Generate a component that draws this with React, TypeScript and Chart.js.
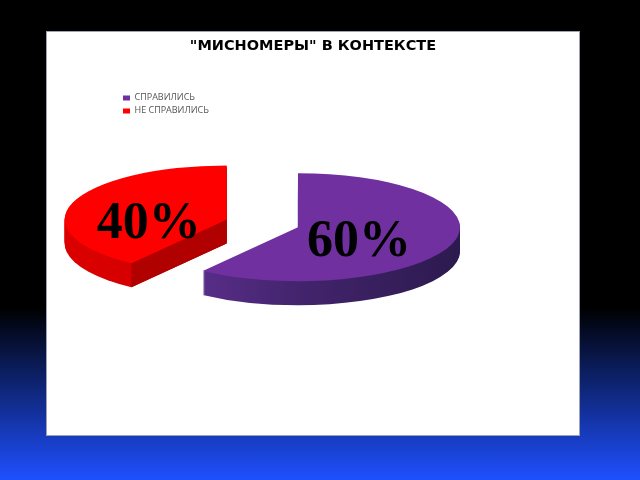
import React, { useEffect, useRef } from "react";
import { Chart, registerables } from "chart.js";

Chart.register(...registerables);

const titleText = '"МИСНОМЕРЫ" В КОНТЕКСТЕ';
const categories = ["СПРАВИЛИСЬ", "НЕ СПРАВИЛИСЬ"];
const shares = [60, 40];
const topColors = ["#7030A0", "#FF0000"];
const wallStops = [
  ["#65349A", "#43246D", "#2C1A4E"],
  ["#DC0000", "#CC0000", "#C00000"],
];
const cutColors = ["#3A1F60", "#B00000"];
const explode = [0, 75];
const labelShift = [
  [-16, 7],
  [-1, 13],
];

const SQUASH = 1 / 3;
const DEPTH = 24;

const centerY = (chart: any) => (chart.chartArea.top + chart.chartArea.bottom) / 2;

const pie3d = {
  id: "pie3d",
  afterLayout(chart: any) {
    if (chart.titleBlock) {
      chart.titleBlock.left = 0;
      chart.titleBlock.right = chart.width;
      chart.titleBlock.width = chart.width;
    }
  },
  afterDatasetsUpdate(chart: any) {
    chart.getDatasetMeta(0).data.forEach((arc: any, i: number) => {
      const mid = (arc.startAngle + arc.endAngle) / 2;
      arc.x += Math.cos(mid) * explode[i];
      arc.y += Math.sin(mid) * explode[i];
    });
  },
  beforeDatasetsDraw(chart: any) {
    const { ctx } = chart;
    const arcs = chart.getDatasetMeta(0).data;
    const cy0 = centerY(chart);
    arcs.forEach((arc: any, i: number) => {
      const { x: cx, y, startAngle: a0, endAngle: a1, outerRadius: r } = arc;
      const cy = cy0 + (y - cy0) * SQUASH;
      const ry = r * SQUASH;
      const g = ctx.createLinearGradient(cx - r, 0, cx + r, 0);
      wallStops[i].forEach((c: string, k: number) => g.addColorStop(k / 2, c));
      ctx.fillStyle = g;
      for (let d = DEPTH; d >= 1; d--) {
        ctx.beginPath();
        ctx.moveTo(cx, cy + d);
        ctx.ellipse(cx, cy + d, r, ry, 0, a0, a1);
        ctx.closePath();
        ctx.fill();
      }
      const cut = (ang: number) => {
        const ex = cx + Math.cos(ang) * r;
        const ey = cy + Math.sin(ang) * ry;
        ctx.fillStyle = cutColors[i];
        ctx.beginPath();
        ctx.moveTo(cx, cy);
        ctx.lineTo(ex, ey);
        ctx.lineTo(ex, ey + DEPTH);
        ctx.lineTo(cx, cy + DEPTH);
        ctx.closePath();
        ctx.fill();
      };
      if (Math.sin(a0 - Math.PI / 2) > 0.01) cut(a0);
      if (Math.sin(a1 + Math.PI / 2) > 0.01) cut(a1);
    });
    ctx.save();
    ctx.translate(0, cy0);
    ctx.scale(1, SQUASH);
    ctx.translate(0, -cy0);
  },
  afterDatasetsDraw(chart: any) {
    const { ctx } = chart;
    ctx.restore();
    const arcs = chart.getDatasetMeta(0).data;
    const values = chart.data.datasets[0].data;
    const total = values.reduce((a: number, b: number) => a + b, 0);
    const cy0 = centerY(chart);
    ctx.save();
    ctx.fillStyle = "#000";
    ctx.font = 'bold 52px "Liberation Serif"';
    ctx.textAlign = "center";
    ctx.textBaseline = "middle";
    arcs.forEach((arc: any, i: number) => {
      const { x, y, startAngle: a0, endAngle: a1, outerRadius: r } = arc;
      const mid = (a0 + a1) / 2;
      const px = x + (Math.cos(mid) * r) / 2 + labelShift[i][0];
      const py = cy0 + (y - cy0 + (Math.sin(mid) * r) / 2) * SQUASH + labelShift[i][1];
      ctx.fillText(Math.round((values[i] / total) * 100) + "%", px, py);
    });
    ctx.restore();
  },
};

export default function App() {
  const ref = useRef<HTMLCanvasElement>(null);
  useEffect(() => {
    const chart = new Chart(ref.current as HTMLCanvasElement, {
      type: "pie",
      data: {
        labels: categories,
        datasets: [
          {
            data: shares,
            backgroundColor: topColors,
            borderWidth: 0,
            radius: 162,
            cutout: "0%",
            clip: false,
          } as any,
        ],
      },
      options: {
        responsive: false,
        animation: false,
        events: [],
        devicePixelRatio: 1,
        layout: { padding: { left: 73, right: 203, top: 0, bottom: 71 } },
        plugins: {
          title: {
            display: true,
            text: titleText,
            color: "#000",
            font: { family: '"DejaVu Sans"', weight: "bold", size: 14.5 },
            padding: { top: 7, bottom: 34 },
          },
          legend: {
            position: "left",
            align: "start",
            fullSize: false,
            labels: {
              boxWidth: 7,
              boxHeight: 5,
              padding: 4,
              color: "#555",
              font: { family: '"Open Sans"', size: 9 },
            },
          },
          tooltip: { enabled: false },
        },
      },
      plugins: [pie3d],
    } as any);
    return () => chart.destroy();
  }, []);
  return (
    <div
      style={{
        position: "fixed",
        left: 0,
        top: 0,
        width: 640,
        height: 480,
        background: "linear-gradient(to bottom, #000 0%, #000 64%, #1F50FF 100%)",
      }}
    >
      <canvas
        ref={ref}
        width={534}
        height={405}
        style={{
          position: "absolute",
          left: 46,
          top: 31,
          background: "#fff",
          outline: "1px solid #9CA3B8",
          outlineOffset: -1,
        }}
      />
    </div>
  );
}
